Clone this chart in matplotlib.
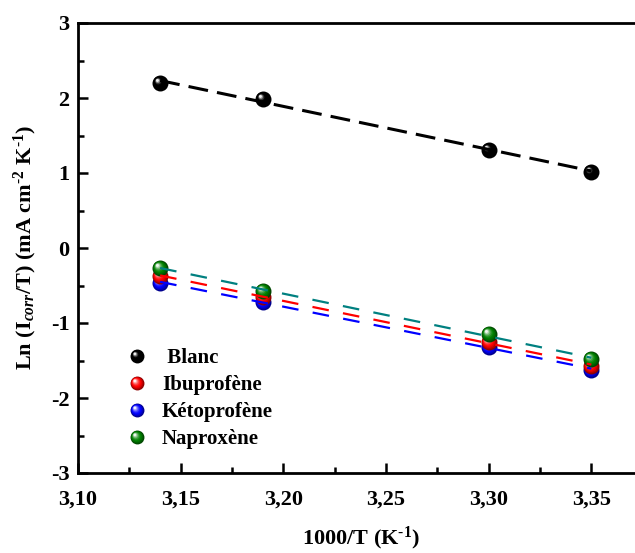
import numpy as np
import matplotlib
matplotlib.use("Agg")
import matplotlib.pyplot as plt
from matplotlib.path import Path
from matplotlib.lines import Line2D
from matplotlib.legend_handler import HandlerTuple
from matplotlib.ticker import MultipleLocator, FuncFormatter
import matplotlib.colors as mcolors

plt.rcParams['font.family'] = ['Liberation Serif', 'DejaVu Serif']
plt.rcParams['font.weight'] = 'bold'
plt.rcParams['mathtext.fontset'] = 'custom'
plt.rcParams['mathtext.rm'] = 'Liberation Serif:bold'
plt.rcParams['mathtext.bf'] = 'Liberation Serif:bold'
plt.rcParams['mathtext.it'] = 'Liberation Serif:italic:bold'
plt.rcParams['mathtext.default'] = 'bf'
plt.rcParams['axes.unicode_minus'] = False

# ---- data ----
inv_T = [3.14, 3.19, 3.30, 3.35]
blanc = [2.20, 1.99, 1.31, 1.02]
ibuprofene = [-0.37, -0.65, -1.25, -1.57]
ketoprofene = [-0.46, -0.72, -1.32, -1.62]
naproxene = [-0.26, -0.57, -1.15, -1.48]
labels = [' Blanc', 'Ibuprofène', 'Kétoprofène', 'Naproxène']
marker_colors = ['#000000', '#ff0000', '#0000ff', '#008000']
line_colors = ['#000000', '#ff0000', '#0000ff', '#008080']
x_ticks = [3.10, 3.15, 3.20, 3.25, 3.30, 3.35]
y_ticks = [-3, -2, -1, 0, 1, 2, 3]

series = [blanc, ibuprofene, ketoprofene, naproxene]

W, H = 635, 553
fig = plt.figure(figsize=(W / 100, H / 100), dpi=100)
ax_left, ax_bottom, ax_w, ax_h = 78, 80, 616, 450
ax = fig.add_axes([ax_left / W, ax_bottom / H, ax_w / W, ax_h / H])


def sphere_layers(base, n=9):
    """Return list of (path, color) for a shaded sphere look."""
    base = np.array(mcolors.to_rgb(base))
    layers = []
    for t in np.linspace(0, 1, n):
        r = 1.0 - 0.82 * t
        c = (-0.38 * t, 0.38 * t)
        circ = Path.circle(c, r)
        frame = Path([(1, 1), (-1, -1)], [Path.MOVETO, Path.MOVETO])
        p = Path.make_compound_path(frame, circ)
        if t < 0.35:
            col = base * (0.55 + 0.45 * t / 0.35)
        else:
            s = (t - 0.35) / 0.65
            col = base + (np.ones(3) - base) * (s ** 1.6) * 0.95
        if base.sum() == 0:
            col = np.ones(3) * (0.0 if t < 0.6 else ((t - 0.6) / 0.4) ** 1.5 * 0.95)
        layers.append((p, np.clip(col, 0, 1)))
    return layers


legend_handles = []
z_order_markers = {0: 3, 1: 3.2, 2: 3.1, 3: 3.3}
for k, (vals, mc, lc, lab) in enumerate(zip(series, marker_colors, line_colors, labels)):
    layers = sphere_layers(mc)
    hl = []
    for j, (p, col) in enumerate(layers):
        ax.plot(inv_T, vals, ls='none', marker=p, markersize=11.5,
                markerfacecolor=col, markeredgewidth=0, zorder=z_order_markers[k] + j * 0.001)
        hl.append(Line2D([], [], ls='none', marker=p, markersize=10,
                         markerfacecolor=col, markeredgewidth=0))
    legend_handles.append(tuple(hl))
    # linear fit line
    coef = np.polyfit(inv_T, vals, 1)
    xs = np.array([min(inv_T), max(inv_T)])
    if k == 0:
        ax.plot(xs, np.polyval(coef, xs), color=lc, lw=2.2, dashes=(6.5, 3), zorder=5)
    else:
        ax.plot(xs, np.polyval(coef, xs), color=lc, lw=1.6, dashes=(7.5, 6.5), zorder=5 + k * 0.1)

ax.set_xlim(3.10, 3.40)
ax.set_ylim(-3, 3)
ax.set_xticks(x_ticks)
ax.set_yticks(y_ticks)
ax.xaxis.set_minor_locator(MultipleLocator(0.025))
ax.yaxis.set_minor_locator(MultipleLocator(0.5))
ax.xaxis.set_major_formatter(FuncFormatter(lambda v, p: f"{v:.2f}".replace('.', ',')))
ax.yaxis.set_major_formatter(FuncFormatter(lambda v, p: f"{int(round(v))}"))
ax.tick_params(axis='both', which='both', direction='in', width=1.8, labelsize=16)
ax.tick_params(which='major', length=7)
ax.tick_params(which='minor', length=4)
ax.tick_params(axis='x', pad=12)
ax.tick_params(axis='y', pad=6)
for s in ax.spines.values():
    s.set_linewidth(2)

ax.set_xlabel('1000/T (K$^{\\text{-1}}$)', fontsize=16, fontweight='bold', va='center')
ax.xaxis.set_label_coords((361 - ax_left) / ax_w, -(538 - (H - ax_bottom)) / ax_h)
ax.set_ylabel('Ln (I$_{\\mathit{corr}}$/T) (mA cm$^{\\text{-2}}$ K$^{\\text{-1}}$)', fontsize=16,
              fontweight='bold', va='center', rotation_mode='anchor')
ax.yaxis.set_label_coords((25 - ax_left) / ax_w, (H - ax_bottom - 248) / ax_h)

leg = ax.legend(legend_handles, labels, handler_map={tuple: HandlerTuple(ndivide=1, pad=0)},
                loc='upper left', bbox_to_anchor=((126.6 - ax_left) / ax_w, (H - ax_bottom - 348) / ax_h),
                frameon=False, borderpad=0, borderaxespad=0,
                prop={'family': 'Liberation Serif', 'weight': 'bold', 'size': 15},
                handlelength=1.0, handletextpad=0.7, labelspacing=0.34)

fig.savefig('out.png', dpi=100)
